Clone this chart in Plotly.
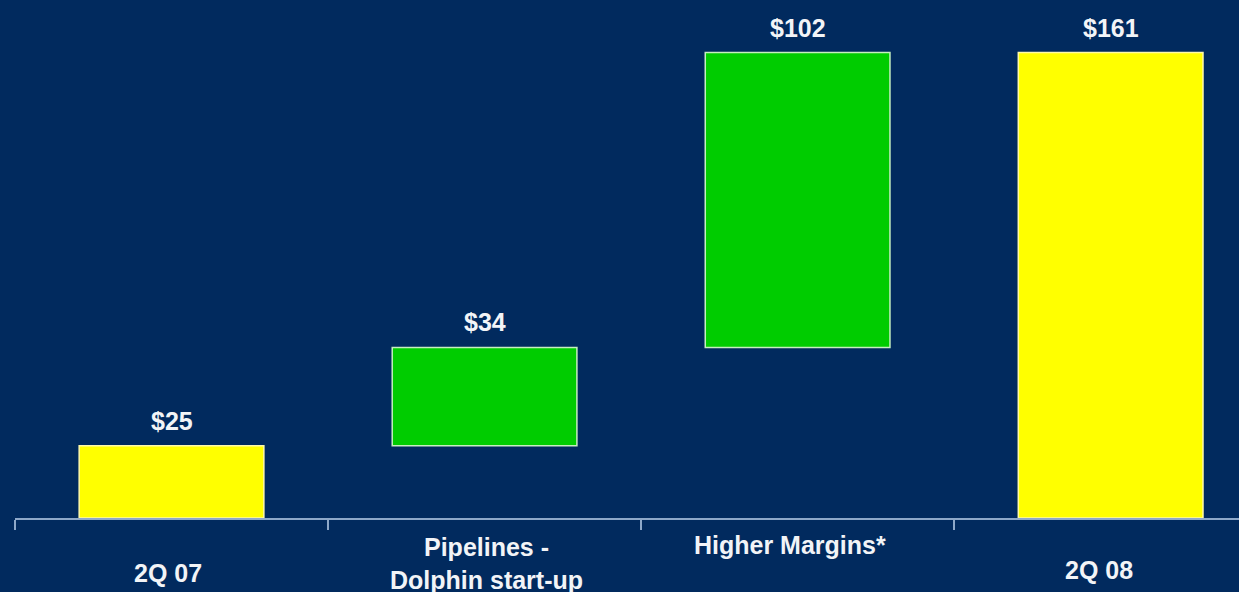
import plotly.graph_objects as go

categories = ["2Q 07", "Pipelines -<br>Dolphin start-up", "Higher Margins*", "2Q 08"]
values = [25, 34, 102, 161]
measures = ["total", "delta", "delta", "total"]

# bases computed from the values (waterfall)
bases = []
running = 0
for v, m in zip(values, measures):
    if m == "total":
        bases.append(0)
        running = v
    else:
        bases.append(running)
        running += v

bar_colors = ["#ffff00" if m == "total" else "#00cc00" for m in measures]
line_colors = ["#fff9a8" if m == "total" else "#c6efc0" for m in measures]

bg = "#012a5e"
txt = "#f2f4f7"
axis_col = "#8ea8c9"

fig = go.Figure()
fig.add_trace(go.Bar(
    x=categories, y=values, base=bases, width=0.59,
    marker=dict(color=bar_colors, line=dict(color=line_colors, width=1.5)),
    hoverinfo="skip", showlegend=False,
))

annotations = []
for c, v, b in zip(categories, values, bases):
    annotations.append(dict(
        x=c, y=b + v, xref="x", yref="y", text="$" + str(v), showarrow=False,
        yanchor="middle", yshift=25,
        font=dict(family="Liberation Sans, Arial, sans-serif", size=25, color=txt, weight="bold"),
    ))

label_shift = {"2Q 07": -55, "Pipelines -<br>Dolphin start-up": -45,
               "Higher Margins*": -27, "2Q 08": -52}
label_dx = {"2Q 07": -4, "Pipelines -<br>Dolphin start-up": 2,
            "Higher Margins*": -8, "2Q 08": -12}
for c in categories:
    annotations.append(dict(
        x=c, y=0, xref="x", yref="paper", text=c, showarrow=False,
        yanchor="middle", yshift=label_shift[c], xshift=label_dx[c],
        font=dict(family="Liberation Sans, Arial, sans-serif", size=25, color=txt, weight="bold"),
    ))

fig.update_layout(
    width=1239, height=592,
    margin=dict(l=15, r=0, t=0, b=74),
    paper_bgcolor=bg, plot_bgcolor=bg,
    bargap=0.4,
    xaxis=dict(
        type="category", range=[-0.5, 3.41], showgrid=False, zeroline=False,
        showline=True, linecolor=axis_col, linewidth=2,
        ticks="outside", tickson="boundaries", ticklen=10, tickwidth=2, tickcolor=axis_col,
        showticklabels=False, fixedrange=True,
    ),
    yaxis=dict(
        range=[0, 179.2], showgrid=False, zeroline=False, showline=False,
        showticklabels=False, ticks="", fixedrange=True,
    ),
    annotations=annotations,
)

fig.write_html("out.html")
